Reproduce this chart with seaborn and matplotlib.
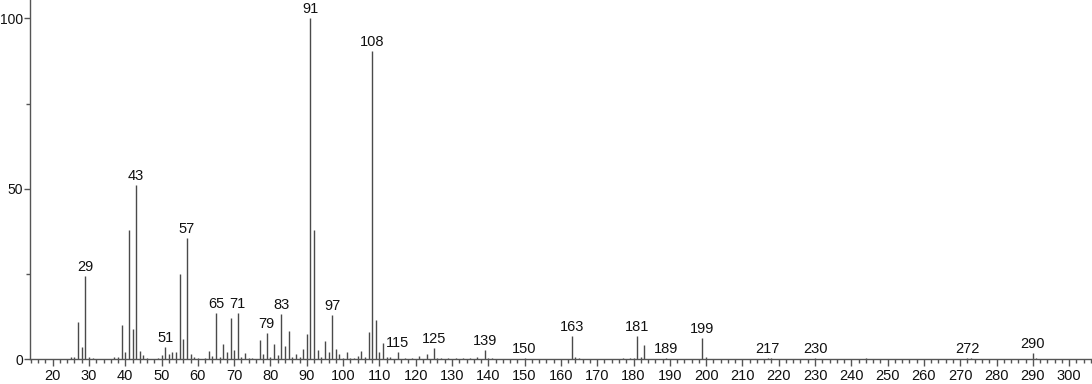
import matplotlib
matplotlib.use("Agg")
import matplotlib.pyplot as plt
import seaborn as sns
import numpy as np
import pandas as pd

# m/z values and relative intensities
mz = [25, 26, 27, 28, 29, 30, 31, 37, 38, 39, 40, 41, 42, 43, 44, 45, 46, 49, 50,
      51, 52, 53, 54, 55, 56, 57, 58, 59, 60, 62, 63, 64, 65, 66, 67, 68, 69, 70,
      71, 72, 73, 74, 75, 77, 78, 79, 80, 81, 82, 83, 84, 85, 86, 87, 88, 89, 90,
      91, 92, 93, 94, 95, 96, 97, 98, 99, 100, 101, 102, 103, 104, 105, 106, 107,
      108, 109, 110, 111, 112, 113, 115, 117, 119, 121, 123, 125, 126, 127, 129,
      131, 133, 135, 137, 139, 140, 141, 150, 163, 164, 165, 177, 179, 180, 181,
      182, 183, 189, 199, 200, 217, 218, 230, 244, 272, 273, 290, 291]
intensity = [0.6, 0.8, 10.8, 3.5, 24.3, 0.6, 0.4, 0.6, 0.8, 10.0, 2.0, 38.0, 9.0, 51.0,
             2.5, 1.2, 0.3, 0.5, 1.2, 3.5, 1.5, 2.0, 2.0, 25.0, 6.0, 35.5, 1.5, 0.8,
             0.5, 0.5, 2.5, 1.0, 13.5, 0.8, 4.5, 2.0, 12.0, 2.8, 13.5, 0.8, 1.8, 0.5,
             0.5, 5.6, 1.5, 7.7, 0.8, 4.5, 1.2, 13.4, 4.0, 8.3, 0.8, 1.5, 0.8, 3.0,
             7.3, 100.0, 38.0, 2.8, 0.8, 5.3, 2.0, 12.9, 3.0, 1.5, 0.5, 2.0, 0.5, 0.5,
             1.0, 2.5, 0.8, 8.0, 90.5, 11.4, 2.0, 4.7, 0.6, 0.6, 2.2, 0.5, 0.5, 1.0,
             1.5, 3.2, 0.5, 0.5, 0.3, 0.3, 0.3, 0.3, 0.8, 2.6, 0.4, 0.3, 0.3, 6.7,
             0.8, 0.3, 0.3, 0.5, 0.5, 6.7, 0.8, 4.2, 0.3, 6.2, 0.6, 0.4, 0.3, 0.4,
             0.3, 0.4, 0.3, 1.8, 0.5]
labelled = [29, 43, 51, 57, 65, 71, 79, 83, 91, 97, 108, 115, 125, 139, 150, 163,
            181, 189, 199, 217, 230, 272, 290]

x_major = list(range(20, 301, 10))
y_major = [0, 50, 100]
y_minor = [25, 75]

df = pd.DataFrame({"mz": mz, "intensity": intensity})

sns.set_theme(style="ticks")
plt.rcParams["font.family"] = ["Liberation Sans", "DejaVu Sans"]

fig = plt.figure(figsize=(10.92, 3.84), dpi=100)
ax = fig.add_axes([30 / 1092, 24.7 / 384, 1 - 30 / 1092, 1 - 24.7 / 384])

ax.vlines(df["mz"], 0, df["intensity"], color="#4a4a4a", linewidth=1.0)

lookup = dict(zip(mz, intensity))
for m in labelled:
    ax.annotate(str(m), xy=(m, lookup[m]), xytext=(0, 1.5), textcoords="offset points",
                ha="center", va="bottom", fontsize=10.5, color="#111111")

ax.set_xlim(13.75, 306.3)
ax.set_ylim(0, 105.4)
ax.set_xticks(x_major)
ax.set_xticks(list(range(14, 307, 2)), minor=True)
ax.set_yticks(y_major)
ax.set_yticks(y_minor, minor=True)
ax.tick_params(axis="x", which="major", labelsize=10.5, length=5, width=1,
               color="#555555", labelcolor="#111111", pad=2, direction="out")
ax.tick_params(axis="y", which="major", labelsize=10, length=4.5, width=1,
               color="#555555", labelcolor="#111111", pad=0.5, direction="out")
ax.tick_params(axis="both", which="minor", length=3, width=1, color="#555555",
               direction="out")
ax.set_xlabel("")
ax.set_ylabel("")
sns.despine(ax=ax)
for s in ["left", "bottom"]:
    ax.spines[s].set_color("#555555")
    ax.spines[s].set_linewidth(1.0)

fig.savefig("out.png", dpi=100)
